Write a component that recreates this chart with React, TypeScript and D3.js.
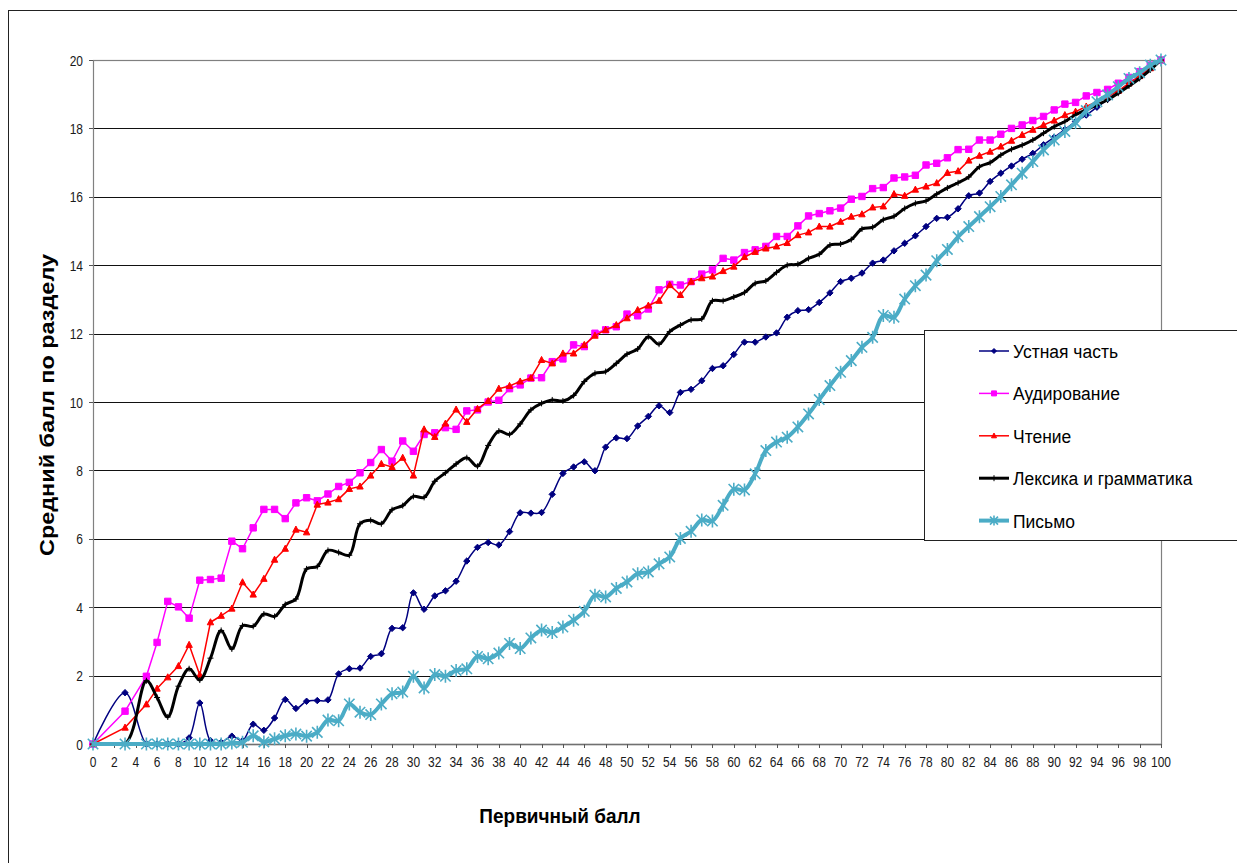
import React from 'react';
import * as d3 from 'd3';

// Primary score (x) values that have data
const primaryScores = [0, 3, ...d3.range(5, 101)];

const ustnaya = [
  0, 1.5, 0, 0, 0, 0, 0.18, 1.2, 0.1, 0.05, 0.23, 0.1, 0.58, 0.4, 0.76, 1.3, 1.04, 1.25, 1.27, 1.29,
  2.05, 2.2, 2.22, 2.56, 2.64, 3.38, 3.4, 4.42, 3.94, 4.33, 4.48, 4.76, 5.35, 5.75, 5.89, 5.82, 6.21, 6.76, 6.75, 6.77,
  7.3, 7.91, 8.1, 8.25, 7.99, 8.68, 8.95, 8.93, 9.3, 9.58, 9.89, 9.69, 10.28, 10.37, 10.62, 10.98, 11.06, 11.39, 11.75, 11.75,
  11.9, 12.02, 12.48, 12.67, 12.7, 12.91, 13.19, 13.52, 13.62, 13.77, 14.06, 14.15, 14.42, 14.64, 14.86, 15.13, 15.37, 15.4, 15.65, 16.03,
  16.11, 16.45, 16.69, 16.9, 17.1, 17.27, 17.52, 17.74, 17.97, 18.2, 18.39, 18.62, 18.85, 19.07, 19.32, 19.53, 19.76, 20,
];

const audirovanie = [
  0, 0.96, 1.98, 2.97, 4.17, 4.01, 3.68, 4.79, 4.81, 4.85, 5.93, 5.71, 6.32, 6.86, 6.86, 6.59, 7.05, 7.2, 7.11, 7.31,
  7.53, 7.65, 7.93, 8.23, 8.61, 8.27, 8.86, 8.56, 9.05, 9.1, 9.25, 9.2, 9.74, 9.77, 10.0, 10.05, 10.39, 10.5, 10.7, 10.71,
  11.18, 11.26, 11.67, 11.62, 12.01, 12.11, 12.2, 12.57, 12.52, 12.72, 13.28, 13.44, 13.42, 13.52, 13.74, 13.86, 14.2, 14.15, 14.37, 14.45,
  14.55, 14.84, 14.84, 15.15, 15.44, 15.51, 15.59, 15.67, 15.93, 16.01, 16.24, 16.27, 16.55, 16.58, 16.63, 16.93, 16.98, 17.14, 17.38, 17.39,
  17.66, 17.66, 17.83, 18.0, 18.1, 18.23, 18.35, 18.54, 18.71, 18.76, 18.95, 19.05, 19.14, 19.32, 19.49, 19.66, 19.85, 20,
];

const chtenie = [
  0, 0.48, 1.16, 1.62, 1.95, 2.28, 2.9, 2.02, 3.56, 3.75, 3.96, 4.73, 4.37, 4.83, 5.39, 5.71, 6.27, 6.19, 7.0, 7.06,
  7.16, 7.46, 7.53, 7.85, 8.19, 8.1, 8.37, 7.85, 9.2, 8.98, 9.37, 9.78, 9.42, 9.8, 10.03, 10.39, 10.47, 10.6, 10.7, 11.23,
  11.13, 11.42, 11.42, 11.67, 11.94, 12.11, 12.25, 12.45, 12.69, 12.82, 12.96, 13.42, 13.13, 13.52, 13.62, 13.67, 13.83, 13.96, 14.24, 14.39,
  14.49, 14.55, 14.65, 14.88, 14.96, 15.13, 15.13, 15.27, 15.42, 15.49, 15.69, 15.72, 16.08, 16.03, 16.21, 16.3, 16.4, 16.7, 16.75, 17.06,
  17.2, 17.32, 17.47, 17.64, 17.81, 17.96, 18.1, 18.23, 18.39, 18.49, 18.64, 18.78, 18.93, 19.1, 19.32, 19.53, 19.76, 20,
];

const leksika = [
  0, 0, 1.85, 1.36, 0.79, 1.69, 2.2, 1.87, 2.51, 3.32, 2.78, 3.46, 3.44, 3.8, 3.73, 4.08, 4.24, 5.12, 5.19, 5.66,
  5.6, 5.52, 6.44, 6.54, 6.44, 6.85, 6.97, 7.24, 7.21, 7.68, 7.93, 8.19, 8.37, 8.12, 8.73, 9.15, 9.05, 9.36, 9.77, 9.96,
  10.06, 10.03, 10.19, 10.6, 10.84, 10.89, 11.13, 11.4, 11.55, 11.91, 11.69, 12.06, 12.25, 12.4, 12.43, 12.96, 12.96, 13.07, 13.2, 13.47,
  13.54, 13.79, 14.0, 14.03, 14.2, 14.32, 14.59, 14.62, 14.75, 15.06, 15.11, 15.33, 15.43, 15.66, 15.81, 15.88, 16.08, 16.26, 16.41, 16.58,
  16.88, 17.0, 17.22, 17.39, 17.51, 17.66, 17.86, 18.05, 18.2, 18.4, 18.54, 18.69, 18.83, 19.03, 19.24, 19.46, 19.71, 20,
];

const pismo = [
  0, 0, 0, 0, 0, 0, 0, 0, 0, 0, 0.03, 0.05, 0.24, 0.06, 0.15, 0.24, 0.29, 0.23, 0.34, 0.7,
  0.68, 1.17, 0.93, 0.86, 1.17, 1.47, 1.52, 1.98, 1.64, 2.03, 1.98, 2.15, 2.2, 2.56, 2.49, 2.66, 2.94, 2.79, 3.1, 3.33,
  3.26, 3.42, 3.62, 3.88, 4.35, 4.3, 4.55, 4.74, 4.98, 5.03, 5.27, 5.47, 6.01, 6.22, 6.55, 6.52, 6.98, 7.45, 7.43, 7.9,
  8.58, 8.83, 8.97, 9.27, 9.65, 10.07, 10.48, 10.87, 11.21, 11.6, 11.89, 12.53, 12.48, 13.01, 13.4, 13.71, 14.13, 14.46, 14.83, 15.13,
  15.42, 15.71, 16.01, 16.35, 16.69, 17.03, 17.37, 17.66, 17.91, 18.17, 18.52, 18.78, 18.98, 19.22, 19.46, 19.63, 19.85, 20,
];

const seriesNames = ['Устная часть', 'Аудирование', 'Чтение', 'Лексика и грамматика', 'Письмо'];
const xTickValues = d3.range(0, 101, 2);
const yTickValues = d3.range(0, 21, 2);
const xTitle = 'Первичный балл';
const yTitle = 'Средний балл по разделу';

type MarkerKind = 'diamond' | 'square' | 'triangle' | 'plus' | 'asterisk';

const styles: { color: string; width: number; marker: MarkerKind; size: number; mw: number; smooth: boolean }[] = [
  { color: '#000080', width: 1.5, marker: 'diamond', size: 3.2, mw: 1, smooth: true },
  { color: '#FF00FF', width: 1.5, marker: 'square', size: 3.2, mw: 1, smooth: false },
  { color: '#FF0000', width: 1.5, marker: 'triangle', size: 3.2, mw: 1, smooth: false },
  { color: '#000000', width: 3, marker: 'plus', size: 3, mw: 1, smooth: true },
  { color: '#4BACC6', width: 4, marker: 'asterisk', size: 5.2, mw: 1.6, smooth: true },
];

function markerPath(kind: MarkerKind, cx: number, cy: number, r: number): string {
  switch (kind) {
    case 'diamond':
      return `M${cx},${cy - r}L${cx + r},${cy}L${cx},${cy + r}L${cx - r},${cy}Z`;
    case 'square':
      return `M${cx - r},${cy - r}H${cx + r}V${cy + r}H${cx - r}Z`;
    case 'triangle':
      return `M${cx},${cy - r * 1.1}L${cx + r},${cy + r * 0.8}L${cx - r},${cy + r * 0.8}Z`;
    case 'plus':
      return `M${cx - r},${cy}H${cx + r}M${cx},${cy - r}V${cy + r}`;
    case 'asterisk':
      return `M${cx - r},${cy - r}L${cx + r},${cy + r}M${cx - r},${cy + r}L${cx + r},${cy - r}M${cx},${cy - r * 1.25}V${cy + r * 1.25}`;
  }
}

const isFilled = (k: MarkerKind) => k === 'diamond' || k === 'square' || k === 'triangle';

export default function App() {
  const W = 1237;
  const H = 863;
  const x = d3.scaleLinear().domain([0, 100]).range([93, 1161]);
  const y = d3.scaleLinear().domain([0, 20]).range([744, 60]);
  const allSeries = [ustnaya, audirovanie, chtenie, leksika, pismo];

  const font = '"Liberation Sans", Arial, Helvetica, sans-serif';

  const legendX = 924.5;
  const legendY = 330.5;
  const rowGap = 42.4;

  return (
    <svg
      width={W}
      height={H}
      viewBox={`0 0 ${W} ${H}`}
      style={{ position: 'absolute', left: 0, top: 0, background: '#fff' }}
      fontFamily={font}
    >
      <defs>
        <clipPath id="plotClip">
          <rect x={x(0) - 2} y={y(20) - 8} width={x(100) - x(0) + 10} height={y(0) - y(20) + 10} />
        </clipPath>
      </defs>
      <rect x={0} y={0} width={W} height={H} fill="#fff" />
      {/* outer chart frame */}
      <rect x={8.5} y={10.5} width={1300} height={900} fill="none" stroke="#222" strokeWidth={1} />

      {/* gridlines */}
      {yTickValues.filter((v) => v > 0 && v < 20).map((v) => (
        <line key={'g' + v} x1={x(0)} x2={x(100)} y1={Math.round(y(v)) + 0.5} y2={Math.round(y(v)) + 0.5} stroke="#111" strokeWidth={1} />
      ))}
      {/* plot border */}
      <rect x={x(0) + 0.5} y={y(20) + 0.5} width={x(100) - x(0)} height={y(0) - y(20)} fill="none" stroke="#808080" strokeWidth={1.2} />
      <line x1={x(0)} x2={x(100)} y1={y(0) + 0.5} y2={y(0) + 0.5} stroke="#707070" strokeWidth={1.5} />

      {/* y ticks and labels */}
      {yTickValues.map((v) => (
        <g key={'yt' + v}>
          <line x1={x(0) - 4} x2={x(0)} y1={Math.round(y(v)) + 0.5} y2={Math.round(y(v)) + 0.5} stroke="#555" strokeWidth={1} />
          <text transform={`translate(83,${y(v) + 5.5}) scale(0.8,1)`} textAnchor="end" fontSize={15} fill="#1a1a1a">
            {v}
          </text>
        </g>
      ))}

      {/* x ticks and labels */}
      {xTickValues.map((v) => (
        <g key={'xt' + v}>
          <line x1={Math.round(x(v)) + 0.5} x2={Math.round(x(v)) + 0.5} y1={y(0)} y2={y(0) + 4} stroke="#555" strokeWidth={1} />
          <text transform={`translate(${x(v)},767) scale(0.8,1)`} textAnchor="middle" fontSize={15} fill="#1a1a1a">
            {v}
          </text>
        </g>
      ))}

      {/* series */}
      {allSeries.map((vals, si) => {
        const st = styles[si];
        const pts: [number, number][] = vals.map((v, i) => [x(primaryScores[i]), y(v)]);
        const line = d3
          .line<[number, number]>()
          .x((d) => d[0])
          .y((d) => d[1])
          .curve(st.smooth ? d3.curveCatmullRom.alpha(0.5) : d3.curveLinear);
        return (
          <g key={'s' + si}>
            <path d={line(pts) || ''} fill="none" stroke={st.color} strokeWidth={st.width} strokeLinejoin="round" clipPath="url(#plotClip)" />
            {pts.map((p, i) => (
              <path
                key={i}
                d={markerPath(st.marker, p[0], p[1], st.size)}
                fill={isFilled(st.marker) ? st.color : 'none'}
                stroke={st.color}
                strokeWidth={st.mw}
              />
            ))}
          </g>
        );
      })}

      {/* axis titles */}
      <text transform={`translate(560,823) scale(0.95,1)`} textAnchor="middle" fontSize={20} fontWeight="bold" fill="#000">
        {xTitle}
      </text>
      <text transform={`translate(54,405) rotate(-90)`} textAnchor="middle" fontSize={20} fontWeight="bold" fill="#000" textLength={302} lengthAdjust="spacingAndGlyphs">
        {yTitle}
      </text>

      {/* legend */}
      <rect x={legendX} y={legendY} width={400} height={210} fill="#fff" stroke="#222" strokeWidth={1} />
      {seriesNames.map((name, i) => {
        const st = styles[i];
        const cy = 351 + i * rowGap;
        const r = st.marker === 'asterisk' ? 4 : st.marker === 'plus' ? 3 : 2.5;
        return (
          <g key={'l' + i}>
            <line x1={979} x2={1009} y1={cy} y2={cy} stroke={st.color} strokeWidth={st.width} />
            <path d={markerPath(st.marker, 994, cy, r)} fill={isFilled(st.marker) ? st.color : 'none'} stroke={st.color} strokeWidth={st.mw} />
            <text transform={`translate(1013,${cy + 7}) scale(0.92,1)`} fontSize={19} fill="#000">
              {name}
            </text>
          </g>
        );
      })}
    </svg>
  );
}
